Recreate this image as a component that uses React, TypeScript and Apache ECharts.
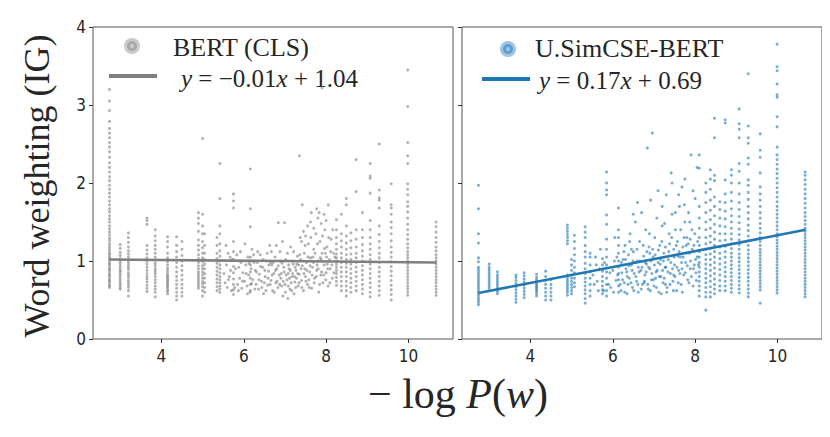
import React, { useEffect, useRef } from "react";
import * as echarts from "echarts";

// ---------- data ----------
const xTicks = [4, 6, 8, 10];
const yTicks = [0, 1, 2, 3, 4];

// BERT (CLS): columns of points at discrete -log P(w) values
const bertColumns: [number, number[]][] = [
  [2.74, [0.66, 0.68, 0.7, 0.73, 0.75, 0.77, 0.8, 0.82, 0.84, 0.87, 0.89, 0.91, 0.94, 0.96, 0.98, 1.01, 1.03, 1.05, 1.08, 1.1, 1.13, 1.16, 1.19, 1.22, 1.26, 1.29, 1.33, 1.37, 1.41, 1.45, 1.5, 1.54, 1.58, 1.63, 1.67, 1.72, 1.77, 1.82, 1.87, 1.92, 1.97, 2.03, 2.08, 2.14, 2.2, 2.26, 2.33, 2.4, 2.46, 2.52, 2.58, 2.64, 2.7, 2.79, 2.93, 3.05, 3.2]],
  [3.0, [0.64, 0.66, 0.69, 0.71, 0.74, 0.77, 0.8, 0.83, 0.86, 0.88, 0.91, 0.94, 0.97, 1.0, 1.03, 1.07, 1.11, 1.16, 1.21]],
  [3.2, [0.55, 0.62, 0.66, 0.69, 0.72, 0.75, 0.79, 0.82, 0.85, 0.89, 0.92, 0.95, 0.98, 1.01, 1.05, 1.09, 1.13, 1.18, 1.24, 1.3, 1.36]],
  [3.65, [0.61, 0.65, 0.69, 0.73, 0.77, 0.8, 0.84, 0.88, 0.92, 0.96, 1.0, 1.04, 1.09, 1.14, 1.2, 1.47, 1.52, 1.55]],
  [3.85, [0.54, 0.6, 0.64, 0.68, 0.72, 0.76, 0.8, 0.84, 0.87, 0.9, 0.94, 0.97, 1.01, 1.05, 1.1, 1.15, 1.2, 1.26, 1.32, 1.4]],
  [4.15, [0.58, 0.61, 0.63, 0.66, 0.68, 0.7, 0.72, 0.74, 0.76, 0.78, 0.8, 0.82, 0.85, 0.88, 0.91, 0.95, 0.99, 1.04, 1.1, 1.18, 1.25, 1.31]],
  [4.37, [0.5, 0.55, 0.6, 0.65, 0.7, 0.75, 0.8, 0.86, 0.92, 0.98, 1.05, 1.12, 1.2, 1.31]],
  [4.5, [0.55, 0.6, 0.65, 0.7, 0.76, 0.82, 0.88, 0.94, 1.0, 1.07, 1.15, 1.25]],
  [4.9, [0.65, 0.68, 0.71, 0.74, 0.77, 0.8, 0.83, 0.86, 0.9, 0.94, 0.98, 1.03, 1.08, 1.14, 1.2, 1.27, 1.38, 1.48, 1.55, 1.62]],
  [5.0, [0.55, 0.62, 0.67, 0.71, 0.74, 0.78, 0.82, 0.86, 0.9, 0.94, 0.99, 1.04, 1.1, 1.17, 1.25, 1.35, 1.45, 1.6, 2.57]],
  [5.05, [0.6, 0.66, 0.72, 0.78, 0.84, 0.9, 0.96, 1.02, 1.1, 1.2, 1.35]],
  [5.35, [0.62, 0.67, 0.72, 0.77, 0.82, 0.87, 0.92, 0.97, 1.03, 1.1, 1.2, 1.3]],
  [5.42, [0.6, 0.64, 0.68, 0.72, 0.76, 0.8, 0.85, 0.9, 0.95, 1.0, 1.06, 1.13, 1.22, 1.35, 1.45, 1.8, 2.25]],
  [5.75, [0.57, 0.63, 0.7, 0.77, 0.85, 0.93, 1.02, 1.12, 1.25, 1.68, 1.77, 1.86]],
  [6.16, [0.62, 0.7, 0.78, 0.86, 0.95, 1.05, 1.44, 1.67, 2.18]],
  [8.25, [0.69, 0.74, 0.79, 0.84, 0.88, 0.92, 0.96, 1.0, 1.04, 1.09, 1.15, 1.22, 1.3, 1.4, 1.53]],
  [8.37, [0.62, 0.68, 0.74, 0.8, 0.86, 0.92, 0.98, 1.04, 1.1, 1.18, 1.26, 1.35, 1.6]],
  [8.49, [0.55, 0.62, 0.68, 0.74, 0.8, 0.86, 0.92, 0.97, 1.02, 1.08, 1.15, 1.23, 1.32, 1.45, 1.72, 1.8]],
  [8.6, [0.6, 0.66, 0.72, 0.78, 0.84, 0.9, 0.96, 1.02, 1.09, 1.17, 1.26, 1.36]],
  [8.73, [0.62, 0.68, 0.74, 0.8, 0.86, 0.92, 0.98, 1.04, 1.1, 1.18, 1.28, 1.4, 1.89, 2.3]],
  [8.88, [0.58, 0.64, 0.7, 0.76, 0.82, 0.88, 0.94, 1.0, 1.06, 1.13, 1.21, 1.3, 1.4, 1.62]],
  [9.07, [0.54, 0.6, 0.66, 0.72, 0.78, 0.84, 0.9, 0.96, 1.02, 1.08, 1.15, 1.22, 1.3, 1.4, 1.52, 1.87, 2.06, 2.09, 2.25]],
  [9.29, [0.56, 0.62, 0.68, 0.74, 0.8, 0.86, 0.92, 0.98, 1.04, 1.1, 1.17, 1.25, 1.34, 1.45, 1.68, 1.78, 1.81, 1.91, 2.5]],
  [9.58, [0.5, 0.57, 0.63, 0.69, 0.75, 0.81, 0.87, 0.93, 0.99, 1.05, 1.11, 1.18, 1.26, 1.35, 1.43, 1.5, 1.6, 1.68, 1.72, 1.99]],
  [9.98, [0.56, 0.6, 0.64, 0.68, 0.72, 0.76, 0.8, 0.84, 0.88, 0.92, 0.96, 1.0, 1.04, 1.08, 1.12, 1.17, 1.22, 1.28, 1.34, 1.4, 1.47, 1.55, 1.63, 1.7, 1.76, 1.85, 1.92, 1.99, 2.25, 2.35, 2.52, 2.98, 3.45]],
  [10.67, [0.56, 0.6, 0.64, 0.68, 0.72, 0.76, 0.8, 0.84, 0.88, 0.92, 0.96, 1.0, 1.04, 1.08, 1.13, 1.18, 1.24, 1.3, 1.37, 1.44, 1.5]],
];

// BERT (CLS): scattered cloud between the columns
const bertCloud: [number, number][] = [
  [5.55, 0.72], [5.58, 0.95], [5.6, 0.66], [5.62, 1.1], [5.65, 0.8], [5.68, 0.88], [5.7, 0.62], [5.72, 1.02],
  [5.85, 0.7], [5.88, 0.92], [5.9, 0.78], [5.92, 1.12], [5.95, 0.65], [5.98, 0.85],
  [6.02, 0.74], [6.05, 0.95], [6.08, 0.68], [6.1, 1.05], [6.12, 0.82], [6.15, 0.6], [6.18, 0.9], [6.2, 1.15], [6.22, 0.76],
  [6.28, 0.88], [6.3, 0.7], [6.33, 0.98], [6.36, 0.64], [6.38, 0.83], [6.4, 1.08], [6.43, 0.74], [6.46, 0.92], [6.48, 0.58],
  [6.52, 0.8], [6.55, 1.0], [6.58, 0.69], [6.6, 0.87], [6.63, 1.2], [6.66, 0.75], [6.68, 0.95], [6.7, 0.62], [6.73, 0.84],
  [6.76, 1.05], [6.78, 0.72], [6.8, 0.9], [6.83, 0.66], [6.84, 1.49], [6.86, 0.82], [6.88, 1.12], [6.9, 0.78], [6.93, 0.97], [6.95, 0.55],
  [6.98, 0.86], [6.99, 1.49], [7.0, 0.7], [7.02, 1.02], [7.05, 0.76], [7.07, 0.52], [7.1, 0.9], [7.12, 0.64], [7.14, 1.18], [7.17, 0.8],
  [7.2, 0.96], [7.22, 0.58], [7.24, 0.73], [7.27, 0.88], [7.3, 1.06], [7.32, 0.68], [7.35, 0.83], [7.35, 2.35], [7.37, 1.3], [7.4, 0.75],
  [7.42, 0.94], [7.42, 1.72], [7.45, 0.62], [7.47, 1.1], [7.5, 0.8], [7.52, 0.98], [7.55, 0.7], [7.57, 1.22], [7.6, 0.86], [7.62, 1.04],
  [7.64, 1.62], [7.65, 0.65], [7.67, 0.92], [7.7, 1.15], [7.72, 0.78], [7.75, 1.35], [7.77, 1.67], [7.77, 0.88], [7.8, 1.0], [7.82, 0.6],
  [7.83, 1.62], [7.85, 1.25], [7.87, 0.82], [7.9, 1.1], [7.9, 3.22], [7.92, 0.72], [7.95, 0.95], [7.97, 1.4], [8.0, 0.85], [8.02, 1.18],
  [8.05, 0.68], [8.05, 1.72], [8.08, 1.02], [8.1, 0.9], [8.12, 1.28], [8.15, 0.78], [8.18, 1.1],
  [6.25, 0.98], [6.5, 0.72], [6.65, 0.98], [6.92, 0.68], [7.08, 0.84], [7.18, 1.0], [7.28, 0.78], [7.38, 1.02], [7.48, 0.9],
  [7.58, 0.76], [7.68, 1.05], [7.78, 0.95], [7.88, 1.02], [7.98, 1.1], [8.03, 0.96], [7.15, 0.72], [7.25, 0.92], [7.33, 0.95],
  [5.52, 0.84], [5.57, 1.2], [5.63, 0.76], [5.67, 1.05], [5.78, 0.66], [5.8, 0.9], [5.83, 1.08], [5.87, 0.62], [5.93, 0.98], [5.97, 0.74],
  [6.03, 1.22], [6.06, 0.84], [6.09, 0.58], [6.13, 0.97], [6.19, 0.71], [6.24, 1.08], [6.27, 0.64], [6.31, 0.86], [6.34, 1.12], [6.37, 0.76],
  [6.41, 0.93], [6.44, 0.66], [6.47, 1.02], [6.51, 0.88], [6.54, 0.62], [6.57, 1.1], [6.59, 0.78], [6.61, 0.95], [6.64, 0.7], [6.67, 1.12],
  [6.69, 0.82], [6.71, 0.98], [6.74, 0.6], [6.77, 0.88], [6.79, 1.2], [6.81, 0.74], [6.84, 0.94], [6.87, 0.7], [6.89, 1.0], [6.91, 0.84],
  [6.94, 1.25], [6.96, 0.74], [6.97, 0.92], [7.01, 0.6], [7.03, 0.82], [7.06, 1.1], [7.08, 0.68], [7.09, 0.95], [7.11, 0.78], [7.13, 0.88],
  [7.16, 0.62], [7.19, 0.84], [7.21, 1.12], [7.23, 0.8], [7.26, 0.66], [7.29, 0.96], [7.31, 0.84], [7.34, 0.72], [7.36, 1.08], [7.39, 0.9],
  [7.41, 0.66], [7.44, 1.0], [7.46, 0.84], [7.49, 1.2], [7.51, 0.74], [7.53, 0.88], [7.56, 1.05], [7.59, 0.66], [7.61, 0.94], [7.63, 1.3],
  [7.66, 0.82], [7.69, 0.98], [7.71, 0.72], [7.73, 1.1], [7.76, 0.8], [7.79, 1.22], [7.81, 0.9], [7.84, 0.7], [7.86, 1.04], [7.89, 0.86],
  [7.91, 1.32], [7.94, 0.82], [7.96, 1.16], [7.99, 0.76], [8.01, 1.05], [8.04, 0.9], [8.06, 1.3], [8.09, 0.72], [8.11, 1.12], [8.14, 0.95],
  [8.16, 1.4], [8.19, 0.85], [8.21, 1.05], [7.45, 1.38], [7.55, 1.45], [7.62, 1.5], [7.7, 1.42], [7.8, 1.55], [7.88, 1.48], [7.95, 1.6],
  [8.0, 1.52], [7.5, 1.32], [7.4, 1.25],
];

// U.SimCSE-BERT: columns
const simcseColumns: [number, number[]][] = [
  [2.74, [0.44, 0.47, 0.5, 0.53, 0.56, 0.59, 0.62, 0.65, 0.68, 0.71, 0.74, 0.77, 0.8, 0.83, 0.86, 0.89, 0.92, 0.99, 1.04, 1.23, 1.35, 1.67, 1.97]],
  [3.0, [0.65, 0.68, 0.71, 0.74, 0.77, 0.8, 0.83, 0.86, 0.89, 0.92, 0.96]],
  [3.2, [0.58, 0.61, 0.64, 0.67, 0.7, 0.73, 0.76, 0.79, 0.82, 0.86]],
  [3.65, [0.47, 0.51, 0.55, 0.59, 0.63, 0.67, 0.71, 0.75, 0.79, 0.82]],
  [3.85, [0.53, 0.57, 0.61, 0.65, 0.69, 0.73, 0.77, 0.81, 0.85]],
  [4.15, [0.55, 0.58, 0.61, 0.63, 0.65, 0.67, 0.69, 0.71, 0.73, 0.76, 0.79, 0.83]],
  [4.37, [0.5, 0.55, 0.6, 0.65, 0.7, 0.75, 0.8, 0.87]],
  [4.5, [0.5, 0.55, 0.6, 0.65, 0.7, 0.76]],
  [4.9, [0.56, 0.6, 0.63, 0.66, 0.69, 0.72, 0.75, 0.78, 0.82, 1.22, 1.26, 1.3, 1.34, 1.38, 1.42, 1.46]],
  [5.0, [0.58, 0.62, 0.66, 0.7, 0.74, 0.78, 0.82, 0.88, 0.95, 1.02]],
  [5.07, [0.67, 0.72, 0.78, 0.85, 0.92, 1.0, 1.08, 1.16, 1.25, 1.33]],
  [5.33, [0.46, 0.52, 0.58, 0.63, 0.68, 0.73, 0.78, 0.84, 0.9, 0.97, 1.05, 1.12, 1.2, 1.3, 1.37, 1.44]],
  [5.45, [0.55, 0.62, 0.7, 0.78, 0.86, 0.95, 1.05, 1.1]],
  [5.75, [0.58, 0.63, 0.68, 0.74, 0.8, 0.87, 0.95, 1.03]],
  [5.85, [0.55, 0.62, 0.7, 0.78, 0.86, 0.95, 1.05, 1.15, 1.28, 1.47, 1.59, 1.85, 1.91, 2.0, 2.14]],
  [6.14, [0.6, 0.68, 0.76, 0.84, 0.92, 1.0, 1.1, 1.2, 1.3, 1.4, 1.68]],
  [8.1, [0.55, 0.62, 0.68, 0.74, 0.8, 0.86, 0.92, 0.98, 1.05, 1.12, 1.2, 1.3, 1.42, 1.55, 1.7, 2.19, 2.36]],
  [8.26, [0.37, 0.54, 0.6, 0.66, 0.72, 0.78, 0.84, 0.9, 0.96, 1.02, 1.08, 1.15, 1.22, 1.3, 1.4, 1.5, 1.62, 1.75, 1.88, 2.0]],
  [8.37, [0.54, 0.6, 0.67, 0.74, 0.81, 0.88, 0.95, 1.02, 1.09, 1.16, 1.24, 1.32, 1.42, 1.53, 1.65, 1.78, 1.92, 2.05, 2.17]],
  [8.47, [0.58, 0.64, 0.7, 0.77, 0.84, 0.91, 0.98, 1.05, 1.12, 1.2, 1.28, 1.37, 1.47, 1.58, 1.7, 1.82, 2.03, 2.1, 2.58, 2.83]],
  [8.6, [0.62, 0.68, 0.75, 0.82, 0.89, 0.96, 1.03, 1.1, 1.18, 1.26, 1.35, 1.45, 1.55, 1.66, 1.76]],
  [8.73, [0.62, 0.68, 0.74, 0.8, 0.86, 0.92, 0.98, 1.05, 1.12, 1.19, 1.27, 1.35, 1.44, 1.54, 1.64, 1.75, 1.86, 2.04, 2.77, 2.81]],
  [8.88, [0.6, 0.65, 0.7, 0.75, 0.8, 0.85, 0.9, 0.95, 1.0, 1.05, 1.1, 1.16, 1.22, 1.28, 1.35, 1.42, 1.5, 1.58, 1.67, 1.77, 1.88, 2.0, 2.1, 2.17]],
  [9.07, [0.59, 0.64, 0.69, 0.74, 0.79, 0.84, 0.89, 0.94, 0.99, 1.04, 1.09, 1.15, 1.21, 1.27, 1.34, 1.41, 1.49, 1.57, 1.66, 1.75, 1.86, 2.0, 2.15, 2.25, 2.58, 2.69, 2.76, 2.95]],
  [9.29, [0.54, 0.59, 0.64, 0.69, 0.74, 0.79, 0.84, 0.89, 0.94, 0.99, 1.04, 1.09, 1.14, 1.2, 1.26, 1.32, 1.39, 1.46, 1.54, 1.62, 1.7, 1.79, 1.88, 1.97, 2.04, 2.24, 2.32, 2.51, 2.58, 2.73, 3.4]],
  [9.58, [0.46, 0.63, 0.67, 0.71, 0.75, 0.79, 0.83, 0.87, 0.91, 0.95, 0.99, 1.03, 1.07, 1.11, 1.15, 1.2, 1.25, 1.3, 1.36, 1.42, 1.48, 1.55, 1.62, 1.7, 1.78, 1.86, 1.95, 2.13, 2.33, 2.42, 2.63]],
  [9.99, [0.59, 0.63, 0.67, 0.71, 0.75, 0.79, 0.83, 0.87, 0.91, 0.95, 0.99, 1.03, 1.07, 1.11, 1.15, 1.19, 1.23, 1.27, 1.31, 1.35, 1.4, 1.45, 1.5, 1.55, 1.6, 1.65, 1.7, 1.76, 1.82, 1.88, 1.94, 2.0, 2.06, 2.12, 2.18, 2.24, 2.3, 2.36, 2.46, 2.72, 2.85, 3.1, 3.13, 3.27, 3.44, 3.49, 3.78]],
  [10.67, [0.54, 0.58, 0.62, 0.66, 0.7, 0.74, 0.78, 0.82, 0.86, 0.9, 0.94, 0.98, 1.02, 1.06, 1.1, 1.14, 1.18, 1.22, 1.26, 1.3, 1.34, 1.38, 1.42, 1.47, 1.52, 1.57, 1.62, 1.68, 1.74, 1.8, 1.86, 1.92, 1.98, 2.04, 2.1, 2.14]],
];

// U.SimCSE-BERT: scattered cloud
const simcseCloud: [number, number][] = [
  [5.55, 0.7], [5.6, 0.95], [5.65, 0.62], [5.7, 1.15], [5.95, 0.66], [6.0, 0.88], [6.05, 1.3], [6.08, 0.75], [6.1, 1.05],
  [6.2, 0.62], [6.22, 0.85], [6.25, 1.02], [6.28, 0.72], [6.3, 1.2], [6.32, 0.9], [6.35, 0.58], [6.38, 1.08], [6.4, 0.78],
  [6.42, 1.35], [6.45, 0.95], [6.48, 0.66], [6.5, 1.12], [6.52, 0.84], [6.55, 1.5], [6.58, 0.74], [6.6, 1.0], [6.62, 0.6],
  [6.65, 1.25], [6.68, 0.88], [6.7, 1.62], [6.72, 0.7], [6.75, 1.06], [6.78, 0.82], [6.8, 1.4], [6.82, 0.96], [6.84, 2.45],
  [6.86, 0.64], [6.88, 1.18], [6.9, 0.9], [6.92, 1.78], [6.94, 0.76], [6.96, 2.64], [6.98, 1.05], [7.0, 0.68], [7.02, 1.3],
  [7.05, 0.86], [7.07, 1.55], [7.1, 0.98], [7.12, 0.6], [7.14, 1.2], [7.17, 0.8], [7.2, 1.45], [7.22, 0.72], [7.24, 1.1],
  [7.27, 0.92], [7.3, 1.85], [7.32, 0.66], [7.35, 1.02], [7.37, 1.35], [7.4, 0.84], [7.42, 2.13], [7.44, 1.6], [7.46, 0.74],
  [7.48, 1.15], [7.5, 0.95], [7.52, 1.4], [7.55, 0.62], [7.57, 1.25], [7.6, 0.88], [7.62, 1.7], [7.64, 1.05], [7.66, 0.7],
  [7.68, 1.95], [7.7, 1.18], [7.72, 0.82], [7.75, 1.5], [7.77, 0.98], [7.8, 1.3], [7.82, 0.76], [7.84, 1.62], [7.86, 1.1],
  [7.88, 0.9], [7.9, 2.36], [7.92, 1.4], [7.95, 0.68], [7.97, 1.2], [8.0, 1.8], [8.02, 0.85], [8.05, 1.05],
  [6.35, 0.8], [6.45, 1.15], [6.62, 0.92], [6.76, 0.72], [6.9, 1.1], [7.04, 0.78], [7.16, 1.02], [7.28, 0.7], [7.38, 1.22],
  [7.48, 0.82], [7.58, 1.06], [7.68, 0.9], [7.78, 1.2], [7.88, 1.28], [7.98, 0.95], [7.26, 1.48], [7.52, 1.62], [7.74, 1.72],
  [5.52, 0.82], [5.58, 1.05], [5.62, 0.74], [5.68, 0.9], [5.78, 0.62], [5.8, 0.98], [5.9, 0.7], [5.93, 0.85], [6.02, 0.6],
  [6.04, 1.0], [6.12, 0.82], [6.18, 0.7], [6.21, 0.98], [6.24, 0.76], [6.27, 1.12], [6.29, 0.6], [6.31, 1.02], [6.34, 0.86],
  [6.37, 0.7], [6.39, 0.94], [6.41, 1.25], [6.44, 0.72], [6.47, 0.88], [6.49, 1.0], [6.51, 0.62], [6.54, 0.98], [6.56, 0.8],
  [6.59, 1.15], [6.61, 0.7], [6.64, 0.86], [6.66, 1.0], [6.69, 0.64], [6.71, 0.92], [6.74, 1.2], [6.77, 0.74], [6.79, 0.98],
  [6.81, 0.86], [6.83, 1.12], [6.85, 0.7], [6.87, 0.92], [6.89, 1.35], [6.91, 0.62], [6.93, 1.0], [6.95, 0.84], [6.97, 1.15],
  [6.99, 0.76], [7.01, 0.95], [7.03, 1.08], [7.06, 0.66], [7.08, 0.88], [7.11, 1.14], [7.13, 0.8], [7.15, 0.96], [7.18, 0.58],
  [7.19, 1.25], [7.21, 0.88], [7.23, 1.0], [7.25, 0.78], [7.28, 1.18], [7.29, 0.92], [7.31, 0.6], [7.34, 0.86], [7.36, 1.12],
  [7.39, 0.7], [7.41, 0.98], [7.43, 1.3], [7.45, 0.9], [7.47, 0.62], [7.49, 1.05], [7.51, 0.8], [7.54, 1.2], [7.56, 0.92],
  [7.59, 0.72], [7.61, 1.12], [7.63, 0.84], [7.65, 1.4], [7.67, 0.98], [7.69, 0.6], [7.71, 1.05], [7.73, 1.3], [7.76, 0.85],
  [7.79, 1.1], [7.81, 0.94], [7.83, 1.22], [7.85, 0.72], [7.87, 1.5], [7.89, 1.0], [7.91, 0.8], [7.93, 1.15], [7.96, 0.9],
  [7.99, 1.35], [8.01, 1.02], [8.03, 0.75], [8.06, 1.25], [8.08, 0.95], [7.44, 2.0], [7.6, 1.85], [7.1, 1.9], [6.6, 1.75],
  [6.5, 1.6], [7.75, 2.05], [7.95, 1.9], [8.05, 2.2], [7.2, 1.7],
];

// regression lines (end points as drawn)
const bertFit: [number, number][] = [[2.74, 1.02], [10.68, 0.98]];
const simcseFit: [number, number][] = [[2.74, 0.59], [10.68, 1.4]];

const GRAY = "#7f7f7f";
const BLUE = "#1f77b4";
const TEXT = "#262626";

function flatten(cols: [number, number[]][], cloud: [number, number][]) {
  const out: [number, number][] = [];
  cols.forEach(([x, ys]) => ys.forEach((y) => out.push([x, y])));
  cloud.forEach((p) => out.push(p));
  return out;
}

export default function App() {
  const ref = useRef<HTMLDivElement>(null);
  useEffect(() => {
    if (!ref.current) return;
    const chart = echarts.init(ref.current, undefined, { renderer: "svg" });
    const tickFont = { fontFamily: "'DejaVu Sans Condensed', 'DejaVu Sans', sans-serif", fontSize: 17, color: TEXT };
    const xAxisBase = (gi: number) => ({
      type: "value" as const,
      gridIndex: gi,
      min: 2.34,
      max: 11.08,
      axisLine: { show: false },
      splitLine: { show: false },
      axisTick: { show: true, inside: false, length: 4, lineStyle: { color: "#333" }, customValues: xTicks },
      axisLabel: { ...tickFont, margin: 8, customValues: xTicks },
    });
    const yAxisBase = (gi: number, showLabel: boolean) => ({
      type: "value" as const,
      gridIndex: gi,
      min: 0,
      max: 4,
      interval: 1,
      axisLine: { show: false },
      splitLine: { show: false },
      axisTick: { show: true, inside: false, length: 4, lineStyle: { color: "#333" }, customValues: yTicks },
      axisLabel: { ...tickFont, show: showLabel, margin: 7, customValues: yTicks },
    });
    const scatter = (idx: number, data: [number, number][], color: string) => ({
      type: "scatter" as const,
      xAxisIndex: idx,
      yAxisIndex: idx,
      data,
      symbolSize: 3,
      itemStyle: { color, opacity: 0.6 },
      silent: true,
      z: 2,
    });
    const fit = (idx: number, data: [number, number][], color: string) => ({
      type: "line" as const,
      xAxisIndex: idx,
      yAxisIndex: idx,
      data,
      symbol: "none",
      lineStyle: { color, width: 2.6 },
      silent: true,
      z: 3,
    });
    const serif = "'Liberation Serif', 'Times New Roman', serif";
    const legendDot = (cx: number, cy: number, outer: string, ring: string) => [
      { type: "circle", shape: { cx, cy, r: 8 }, style: { fill: outer } },
      { type: "circle", shape: { cx, cy, r: 5 }, style: { fill: ring } },
      { type: "circle", shape: { cx, cy, r: 2.2 }, style: { fill: outer } },
    ];
    chart.setOption({
      animation: false,
      backgroundColor: "#ffffff",
      grid: [
        { left: 93, top: 27, width: 360, height: 312, show: true, borderColor: "#555", borderWidth: 1, backgroundColor: "transparent" },
        { left: 462, top: 27, width: 360, height: 312, show: true, borderColor: "#555", borderWidth: 1, backgroundColor: "transparent" },
      ],
      xAxis: [xAxisBase(0), xAxisBase(1)],
      yAxis: [yAxisBase(0, true), yAxisBase(1, false)],
      series: [
        scatter(0, flatten(bertColumns, bertCloud), GRAY),
        fit(0, bertFit, GRAY),
        scatter(1, flatten(simcseColumns, simcseCloud), BLUE),
        fit(1, simcseFit, BLUE),
      ],
      graphic: [
        ...legendDot(132, 46, "#cacaca", "#a9a9a9"),
        { type: "line", shape: { x1: 109, y1: 76, x2: 157, y2: 76 }, style: { stroke: GRAY, lineWidth: 4 } },
        { type: "text", x: 173, y: 47, style: { text: "BERT (CLS)", font: `26px ${serif}`, fill: TEXT, align: "left", verticalAlign: "middle" } },
        {
          type: "text", x: 181, y: 78,
          style: {
            text: "{i|y} = −0.01{i|x} + 1.04", font: `25px ${serif}`, fill: TEXT, align: "left", verticalAlign: "middle",
            rich: { i: { fontStyle: "italic", fontFamily: serif, fontSize: 25, fill: TEXT } },
          },
        },
        ...legendDot(508, 49, "#9fc5e4", "#5a9bd0"),
        { type: "line", shape: { x1: 482, y1: 79, x2: 530, y2: 79 }, style: { stroke: BLUE, lineWidth: 4 } },
        { type: "text", x: 535, y: 48, style: { text: "U.SimCSE-BERT", font: `26px ${serif}`, fill: TEXT, align: "left", verticalAlign: "middle" } },
        {
          type: "text", x: 539, y: 80,
          style: {
            text: "{i|y} = 0.17{i|x} + 0.69", font: `25px ${serif}`, fill: TEXT, align: "left", verticalAlign: "middle",
            rich: { i: { fontStyle: "italic", fontFamily: serif, fontSize: 25, fill: TEXT } },
          },
        },
        {
          type: "text", x: 37, y: 186, rotation: Math.PI / 2,
          style: { text: "Word weighting (IG)", font: `36px ${serif}`, fill: TEXT, align: "center", verticalAlign: "middle" },
        },
        {
          type: "text", x: 458, y: 394,
          style: {
            text: "− log {i|P}({i|w})",
            font: `42px ${serif}`, fill: TEXT, align: "center", verticalAlign: "middle",
            rich: { i: { fontStyle: "italic", fontFamily: serif, fontSize: 42, fill: TEXT } },
          },
        },
      ],
    });
    return () => chart.dispose();
  }, []);
  return <div ref={ref} style={{ width: 830, height: 437, margin: -8 }} />;
}
